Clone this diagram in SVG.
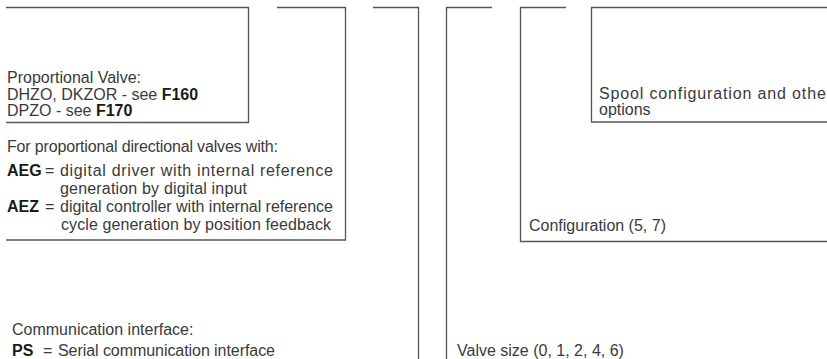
<svg xmlns="http://www.w3.org/2000/svg" width="827" height="359" viewBox="0 0 827 359">
<style>
.ln{fill:none;stroke:#555;stroke-width:1.3}
text{font-family:"Liberation Sans",Arial,sans-serif;font-size:16px;fill:#3a3a3a}
.b{font-weight:bold;fill:#1a1a1a}
</style>
<rect width="827" height="359" fill="#fff"/>
<g id="connectors">
<path class="ln" d="M6,7.5H248.5V122.5H6"/>
<path class="ln" d="M277,7.5H345.5V240H6"/>
<path class="ln" d="M373,7.5H418.5V359"/>
<path class="ln" d="M492,7.5H446.5V359"/>
<path class="ln" d="M566,7.5H520.5V241.5H827"/>
<path class="ln" d="M827,7.5H591.5V122H827"/>
</g>
<g id="node-valve">
<text x="7" y="83">Proportional Valve:</text>
<text x="7" y="99.5">DHZO, DKZOR - see <tspan class="b">F160</tspan></text>
<text x="7" y="116">DPZO - see <tspan class="b">F170</tspan></text>
</g>
<g id="node-driver">
<text x="7" y="152" textLength="271" lengthAdjust="spacing">For proportional directional valves with:</text>
<text x="7" y="176" class="b">AEG</text>
<text x="45" y="176">=</text>
<text x="60" y="176" textLength="273" lengthAdjust="spacing">digital driver with internal reference</text>
<text x="60" y="194" textLength="187" lengthAdjust="spacing">generation by digital input</text>
<text x="7" y="212" class="b">AEZ</text>
<text x="45" y="212">=</text>
<text x="60" y="212" textLength="273" lengthAdjust="spacing">digital controller with internal reference</text>
<text x="61" y="230" textLength="270" lengthAdjust="spacing">cycle generation by position feedback</text>
</g>
<g id="node-comm">
<text x="12" y="335">Communication interface:</text>
<text x="12" y="356" class="b">PS</text>
<text x="43" y="356">=</text>
<text x="58" y="356" textLength="217" lengthAdjust="spacing">Serial communication interface</text>
</g>
<g id="node-size">
<text x="457" y="356">Valve size (0, 1, 2, 4, 6)</text>
</g>
<g id="node-config">
<text x="529" y="231">Configuration (5, 7)</text>
</g>
<g id="node-spool">
<text x="599" y="99" textLength="233" lengthAdjust="spacing">Spool configuration and other</text>
<text x="599" y="115">options</text>
</g>
</svg>
